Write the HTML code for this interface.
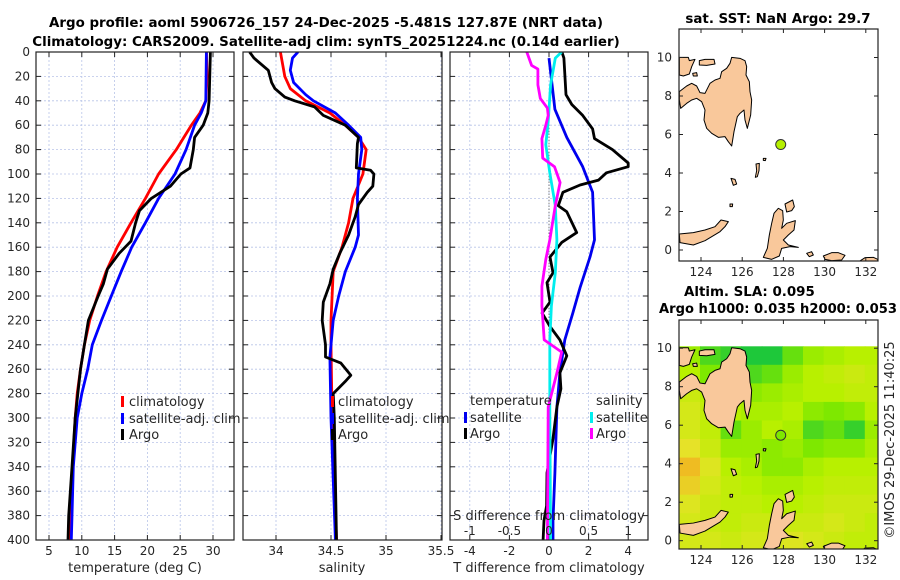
<!DOCTYPE html>
<html><head><meta charset="utf-8">
<style>
html,body{margin:0;padding:0;background:#fff;}
svg{display:block;font-family:"DejaVu Sans","Liberation Sans",sans-serif;}
.tk{font-size:12px;fill:#262626;}
.tt{font-size:13.4px;font-weight:bold;fill:#000;}
</style></head>
<body>
<svg id="fig" width="900" height="580" viewBox="0 0 900 580">
<defs>
<clipPath id="c1"><rect x="36" y="52" width="198" height="488"/></clipPath>
<clipPath id="c2"><rect x="243" y="52" width="199" height="488"/></clipPath>
<clipPath id="c3"><rect x="450" y="52" width="198" height="488"/></clipPath>
<clipPath id="cm1"><rect x="679" y="29" width="199" height="232"/></clipPath>
<clipPath id="cm2"><rect x="679" y="320" width="199" height="229"/></clipPath>
<g id="land" fill="#f9c89b" stroke="#000" stroke-width="3" stroke-linejoin="round">
<path d="M245,172 L270,175 285,182 290,200 288,225 298,245 300,275 305,300 302,345 292,385 285,360 282,330 270,340 262,350 252,395 248,420 245,438 235,425 225,410 205,412 185,400 170,385 162,360 165,330 155,305 140,295 125,300 110,310 92,325 88,300 88,275 110,258 125,250 140,258 150,278 165,280 180,250 195,240 210,235 215,215 230,205 240,190Z"/>
<path d="M88,172 L115,172 118,182 135,178 125,200 118,222 100,228 88,225Z"/>
<path d="M148,182 L165,178 192,178 195,192 170,196 148,195Z"/>
<path d="M128,220 L140,218 142,228 130,228Z"/>
<path d="M372,640 L385,625 398,632 400,660 395,685 410,670 436,662 432,690 415,705 400,720 415,735 445,742 420,740 395,745 388,768 365,778 340,772 352,745 358,705 365,670Z"/>
<path d="M405,612 L428,600 433,620 425,632 410,636Z"/>
<path d="M88,702 L130,698 165,690 195,680 213,660 235,665 225,680 210,695 165,722 130,735 90,728Z"/>
<path d="M625,786 L645,773 670,772 683,778 683,790 625,790Z"/>
<path d="M520,768 L545,758 565,758 585,766 575,780 545,782 525,778Z"/>
<path d="M470,760 L485,755 490,765 478,770Z"/>
<path d="M318,492 L328,490 327,512 322,530 316,532 320,512Z"/>
<path d="M243,535 L255,538 260,552 250,556Z"/>
<path d="M340,475 L348,475 346,482 340,481Z"/>
<path d="M240,612 L248,612 247,620 240,620Z"/>
</g>
</defs>
<rect x="0" y="0" width="900" height="580" fill="#fff"/>
<text class="tt" x="326" y="27" text-anchor="middle">Argo profile: aoml 5906726_157 24-Dec-2025 -5.481S 127.87E (NRT data)</text>
<text class="tt" x="326" y="46" text-anchor="middle">Climatology: CARS2009. Satellite-adj clim: synTS_20251224.nc (0.14d earlier)</text>
<g id="p1"></g>
<g id="p2"></g>
<g id="p3"></g>
<g id="m1"></g>
<g id="m2"></g>
<text class="tt" x="778" y="23" text-anchor="middle">sat. SST: NaN Argo: 29.7</text>
<text class="tt" x="684" y="296">Altim. SLA: 0.095</text>
<text class="tt" x="659" y="313" textLength="238" lengthAdjust="spacingAndGlyphs">Argo h1000: 0.035 h2000: 0.053</text>
<text class="tk" x="0" y="0" transform="translate(894,440) rotate(-90)" text-anchor="middle" style="font-size:13px">©IMOS 29-Dec-2025 11:40:25</text>
</svg>
<script>
// ---- data ----
const tClimDepth=[0,20,40,50,60,80,100,120,140,160,180,200,220,240,260,280,300,340,380,400];
const tClim=[29.0,29.1,28.9,28.0,26.7,24.4,21.7,19.7,17.5,15.4,13.7,12.4,11.2,10.4,9.8,9.3,9.0,8.6,8.3,8.2];
const tSatDepth=[0,40,50,60,80,100,120,140,160,180,200,220,240,260,280,300,340,380,400];
const tSat=[29.0,28.9,28.2,27.2,25.9,24.2,21.7,19.7,17.6,16.0,14.5,13.0,11.6,10.9,10.0,9.3,8.7,8.5,8.4];
const tArgoDepth=[0,40,50,60,70,80,95,100,110,120,130,140,155,165,178,190,200,220,240,260,300,340,380,400];
const tArgo=[29.6,29.4,29.2,28.5,27.2,27.0,26.5,25.1,23.5,20.6,18.8,18.2,17.5,15.7,13.9,13.3,12.5,11.0,10.4,9.8,9.0,8.5,8.0,7.9];
const sClimDepth=[0,20,30,40,50,60,70,80,100,120,140,160,180,200,220,240,300,400];
const sClim=[34.04,34.08,34.13,34.27,34.49,34.63,34.75,34.82,34.79,34.70,34.66,34.60,34.52,34.51,34.50,34.50,34.51,34.55];
const sSatDepth=[0,5,15,25,35,40,50,60,70,80,100,120,150,160,180,200,220,250,300,400];
const sSat=[34.20,34.15,34.13,34.16,34.27,34.34,34.54,34.66,34.77,34.78,34.75,34.74,34.75,34.72,34.63,34.57,34.52,34.49,34.50,34.54];
const sArgoDepth=[0,5,15,25,30,37,40,45,52,60,70,75,95,97,100,110,115,125,135,150,165,178,190,205,220,240,250,255,265,270,280,300,400];
const sArgo=[33.76,33.80,33.93,33.96,33.99,34.08,34.17,34.35,34.43,34.63,34.75,34.74,34.73,34.86,34.89,34.88,34.83,34.75,34.72,34.66,34.58,34.52,34.49,34.43,34.42,34.45,34.45,34.59,34.68,34.63,34.52,34.53,34.55];
const dTSatDepth=[5,47,70,94,115,154,168,193,214,236,263,291,345,384,400];
const dTSat=[0,0.3,0.9,1.7,2.2,2.3,2.07,1.57,1.2,0.8,0.55,0.4,0.3,0.2,0.2];
const dTArgoDepth=[0,5,35,43,52,63,71,80,91,94,99,105,109,115,126,131,148,156,168,181,189,205,214,225,236,249,263,276,291,317,345,372,384,400];
const dTArgo=[0.65,0.75,0.86,1.15,1.7,2.2,2.3,3.2,4.0,4.0,2.9,2.5,1.57,0.7,0.47,0.9,1.4,0.65,0.05,0.2,-0.1,0.05,-0.35,0.05,0.55,0.9,0.55,0.6,0.4,0.2,-0.1,-0.12,-0.25,-0.3];
const dSSatDepth=[0,5,27,57,76,99,126,154,181,208,236,291,400];
const dSSat=[0.16,0.08,0.02,-0.01,-0.04,0.01,0.08,0.10,0.08,0.03,0.01,0.01,0.02];
const dSArgoDepth=[0,11,14,27,38,46,52,60,71,87,94,107,126,154,170,192,208,236,246,263,291,400];
const dSArgo=[-0.28,-0.22,-0.14,-0.14,-0.11,-0.02,-0.01,-0.04,-0.09,-0.08,0.07,0.14,0.08,0.01,-0.04,-0.09,-0.09,-0.06,0.16,0.10,-0.01,-0.02];
const depthTicks=[0,20,40,60,80,100,120,140,160,180,200,220,240,260,280,300,320,340,360,380,400];
const tTicks=[5,10,15,20,25,30];
const sTicks=[34,34.5,35,35.5];
const dTTicks=[-4,-2,0,2,4];
const dSTicks=[-1,-0.5,0,0.5,1];
const lonTicks=[124,126,128,130,132];
const latTicks=[0,2,4,6,8,10];
const floatLon=127.87, floatLat=5.48;
const heatRows=[
[0.7,0.9,0.95,1,1,0.85,0.7,0.65,0.6,0.6],
[0.6,0.8,0.9,0.9,0.85,0.7,0.6,0.55,0.5,0.55],
[0.5,0.6,0.7,0.75,0.7,0.65,0.6,0.6,0.55,0.55],
[0.45,0.55,0.6,0.65,0.65,0.6,0.75,0.8,0.75,0.6],
[0.45,0.55,0.85,0.7,0.6,0.65,0.9,0.85,0.95,0.7],
[0.35,0.5,0.7,0.7,0.75,0.7,0.8,0.75,0.75,0.65],
[0.15,0.4,0.6,0.65,0.75,0.75,0.65,0.6,0.6,0.6],
[0.25,0.45,0.55,0.6,0.65,0.65,0.6,0.55,0.55,0.55],
[0.4,0.5,0.55,0.55,0.6,0.6,0.55,0.5,0.5,0.5],
[0.45,0.5,0.55,0.5,0.5,0.5,0.5,0.45,0.5,0.55],
[0.45,0.45,0.5,0.45,0.45,0.4,0.45,0.5,0.55,0.55]];
// ---- axes ----
const NS='http://www.w3.org/2000/svg';
const yD=d=>52+d*1.22;
const xT=t=>49+(t-5)*6.56;
const xS=s=>276+(s-34)*110;
const xDT=v=>549+v*19.8;
const xDS=v=>549+v*79.2;
const mx1=lon=>701+(lon-124)*20.6;
const my1=lat=>250-lat*19.25;
const my2=lat=>540.7-lat*19.25;
function mk(tag,attrs,parent){const e=document.createElementNS(NS,tag);for(const k in attrs)e.setAttribute(k,attrs[k]);parent.appendChild(e);return e;}
function line(g,depths,vals,xf,color,clip,name){
  const pts=depths.map((d,i)=>xf(vals[i]).toFixed(1)+','+yD(d).toFixed(1)).join(' ');
  const p=mk('polyline',{points:pts,fill:'none',stroke:color,'stroke-width':2.8,'stroke-linejoin':'round','clip-path':'url(#'+clip+')'},g);
  
  
}
function panel(g,x0,x1,xticks,xf,fmt,clip,showY){
  mk('rect',{x:x0,y:52,width:x1-x0,height:488,fill:'#fff'},g);
  depthTicks.forEach(d=>{mk('line',{x1:x0,x2:x1,y1:yD(d),y2:yD(d),stroke:'#b8c4e8','stroke-width':0.8,'stroke-dasharray':'2,2'},g);
    mk('line',{x1:x0,x2:x0+5,y1:yD(d),y2:yD(d),stroke:'#222'},g);mk('line',{x1:x1-5,x2:x1,y1:yD(d),y2:yD(d),stroke:'#222'},g);
    if(showY){const t=mk('text',{x:x0-6,y:yD(d)+4,'text-anchor':'end',class:'tk'},g);t.textContent=d;
      
      }
  });
  xticks.forEach(v=>{const x=xf(v);
    mk('line',{x1:x,x2:x,y1:52,y2:540,stroke:'#b8c4e8','stroke-width':0.8,'stroke-dasharray':'2,2'},g);
    mk('line',{x1:x,x2:x,y1:540,y2:535,stroke:'#222'},g);mk('line',{x1:x,x2:x,y1:52,y2:57,stroke:'#222'},g);
    const t=mk('text',{x:x,y:555,'text-anchor':'middle',class:'tk'},g);t.textContent=fmt(v);
    
    
  });
}
function frame(g,x0,x1){mk('rect',{x:x0,y:52,width:x1-x0,height:488,fill:'none',stroke:'#222','stroke-width':1.2},g);}
function txt(g,x,y,s,name,anchor,size){const t=mk('text',{x:x,y:y,class:'tk','text-anchor':anchor||'start'},g);if(size)t.style.fontSize=size+'px';t.textContent=s;
  
  return t;}
function legMark(g,x,y,c){mk('rect',{x:x,y:y-10,width:3,height:11,fill:c},g);}
// panel 1
const p1=document.getElementById('p1');
panel(p1,36,234,tTicks,xT,v=>v,'c1',true);
line(p1,tClimDepth,tClim,xT,'#ff0000','c1','temp-climatology-line');
line(p1,tSatDepth,tSat,xT,'#0000ff','c1','temp-satellite-line');
line(p1,tArgoDepth,tArgo,xT,'#000','c1','temp-argo-line');
frame(p1,36,234);
legMark(p1,121,406,'#ff0000');txt(p1,129,406,'climatology','legend-climatology','start',13);
legMark(p1,121,423,'#0000ff');txt(p1,129,423,'satellite-adj. clim','legend-satellite-adj','start',13);
legMark(p1,121,439,'#000');txt(p1,129,439,'Argo','legend-argo','start',13);
txt(p1,135,572,'temperature (deg C)','x-axis-title-temperature','middle',13);
// panel 2
const p2=document.getElementById('p2');
panel(p2,243,442,sTicks,xS,v=>v,'c2',false);
line(p2,sClimDepth,sClim,xS,'#ff0000','c2','sal-climatology-line');
line(p2,sSatDepth,sSat,xS,'#0000ff','c2','sal-satellite-line');
line(p2,sArgoDepth,sArgo,xS,'#000','c2','sal-argo-line');
frame(p2,243,442);
legMark(p2,331,406,'#ff0000');txt(p2,338,406,'climatology','legend-climatology','start',13);
legMark(p2,331,423,'#0000ff');txt(p2,338,423,'satellite-adj. clim','legend-satellite-adj','start',13);
legMark(p2,331,439,'#000');txt(p2,338,439,'Argo','legend-argo','start',13);
txt(p2,342,572,'salinity','x-axis-title-salinity','middle',13);
// panel 3
const p3=document.getElementById('p3');
panel(p3,450,648,dTTicks,xDT,v=>v,'c3',false);
mk('line',{x1:549,x2:549,y1:yD(40),y2:yD(250),stroke:'#555','stroke-width':1,'stroke-dasharray':'1,2'},p3);
line(p3,dTSatDepth,dTSat,xDT,'#0000ee','c3','tdiff-satellite-line');
line(p3,dTArgoDepth,dTArgo,xDT,'#000','c3','tdiff-argo-line');
line(p3,dSSatDepth,dSSat,xDS,'#00eeee','c3','sdiff-satellite-line');
line(p3,dSArgoDepth,dSArgo,xDS,'#ff00ff','c3','sdiff-argo-line');
frame(p3,450,648);
txt(p3,470,405,'temperature','legend-temperature-header','start',13);
legMark(p3,464,422,'#0000ee');txt(p3,470,422,'satellite','legend-tdiff-satellite','start',13);
legMark(p3,464,438,'#000');txt(p3,470,438,'Argo','legend-tdiff-argo','start',13);
txt(p3,596,405,'salinity','legend-salinity-header','start',13);
legMark(p3,590,422,'#00eeee');txt(p3,596,422,'satellite','legend-sdiff-satellite','start',13);
legMark(p3,590,438,'#ff00ff');txt(p3,596,438,'Argo','legend-sdiff-argo','start',13);
txt(p3,549,520,'S difference from climatology','s-diff-axis-title','middle',13);
dSTicks.forEach(v=>txt(p3,xDS(v),535,String(v),'s-diff-tick-label','middle'));
txt(p3,549,572,'T difference from climatology','t-diff-axis-title','middle',13);
// maps
function heatColor(v){
  const stops=[[0,[245,160,30]],[0.35,[230,226,40]],[0.6,[184,240,0]],[0.8,[126,232,0]],[1,[30,200,58]]];
  for(let i=1;i<stops.length;i++){if(v<=stops[i][0]){const a=stops[i-1],b=stops[i],f=(v-a[0])/(b[0]-a[0]);
    return 'rgb('+a[1].map((c,j)=>Math.round(c+(b[1][j]-c)*f)).join(',')+')';}}
  return 'rgb(30,200,58)';
}
function mapAxes(g,yf,y0,y1){
  mk('rect',{x:679,y:y0,width:199,height:y1-y0,fill:'#fff'},g);
  return ()=>{
    mk('rect',{x:679,y:y0,width:199,height:y1-y0,fill:'none',stroke:'#222','stroke-width':1.2},g);
    lonTicks.forEach(l=>{const x=mx1(l);mk('line',{x1:x,x2:x,y1:y1,y2:y1-4,stroke:'#222'},g);mk('line',{x1:x,x2:x,y1:y0,y2:y0+4,stroke:'#222'},g);
      txt(g,x,y1+15,String(l),'lon-tick-label','middle');});
    latTicks.forEach(l=>{const y=yf(l);mk('line',{x1:679,x2:683,y1:y,y2:y,stroke:'#222'},g);mk('line',{x1:874,x2:878,y1:y,y2:y,stroke:'#222'},g);
      txt(g,672,y+4,String(l),'lat-tick-label','end');});
  };
}
const m1=document.getElementById('m1');
const f1=mapAxes(m1,my1,29,261);
const lg1=mk('g',{'clip-path':'url(#cm1)'},m1);
mk('use',{href:'#land',transform:'translate(650,0) scale(0.33333)'},lg1);
const dot1=mk('circle',{cx:mx1(floatLon),cy:my1(floatLat),r:5,fill:'#b5f000',stroke:'#333','stroke-width':1},m1);


f1();
const m2=document.getElementById('m2');
const f2=mapAxes(m2,my2,320,549);
const hg=mk('g',{'clip-path':'url(#cm2)'},m2);
heatRows.forEach((row,r)=>row.forEach((v,c)=>{
  const latTop=10.1-r*(10.6/11), latBot=10.1-(r+1)*(10.6/11);
  const cell=mk('rect',{x:mx1(122.95+c).toFixed(1),y:my2(latTop).toFixed(1),width:(20.6+0.6).toFixed(1),height:(my2(latBot)-my2(latTop)+0.6).toFixed(1),fill:heatColor(v)},hg);
  
  
}));
mk('use',{href:'#land',transform:'translate(650,290.4) scale(0.33333)'},hg);
const dot2=mk('circle',{cx:mx1(floatLon),cy:my2(floatLat),r:5,fill:'#7ee800',stroke:'#333','stroke-width':1},m2);


f2();
</script>
</body></html>
